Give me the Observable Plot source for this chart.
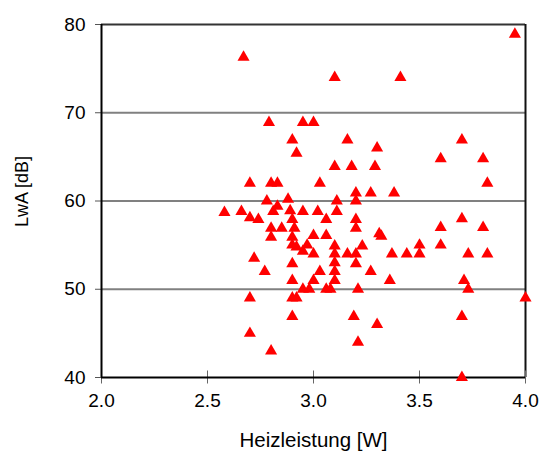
<!DOCTYPE html>
<html>
<head>
<meta charset="utf-8">
<script src="https://cdn.jsdelivr.net/npm/d3@7"></script>
<script src="https://cdn.jsdelivr.net/npm/@observablehq/plot@0.6"></script>
<style>
  html, body { margin: 0; padding: 0; background: #fff; }
  svg { display: block; }
</style>
</head>
<body>
<div id="chart"></div>
<script>
const heizleistung = [
  2.67, 3.10, 3.41, 3.95, 2.79, 2.95, 3.00, 2.90, 2.92, 3.16,
  3.30, 3.70, 3.60, 3.80, 3.10, 3.18, 3.29, 3.82, 2.70, 2.80,
  2.83, 3.03, 3.20, 3.27, 3.38, 2.78, 2.88, 3.11, 3.20, 2.83,
  2.58, 2.66, 2.81, 2.89, 2.95, 3.02, 3.11, 2.70, 2.74, 2.90,
  3.06, 3.20, 3.70, 2.80, 2.85, 2.91, 3.20, 3.60, 3.80, 2.80,
  2.90, 3.00, 3.06, 3.31, 3.32, 2.90, 2.92, 2.97, 2.95, 3.00,
  3.10, 3.10, 3.16, 3.20, 3.23, 3.37, 3.44, 3.50, 3.50, 3.60,
  3.73, 3.82, 2.72, 2.90, 3.10, 3.20, 2.77, 3.03, 3.10, 3.27,
  2.90, 3.00, 3.10, 3.36, 3.71, 2.95, 2.98, 3.06, 3.08, 3.21,
  3.73, 2.70, 2.90, 2.92, 4.00, 2.90, 3.19, 3.70, 3.30, 2.70,
  3.21, 2.80, 3.70
];
const lwa = [
  76.3, 74.0, 74.0, 78.9, 68.9, 68.9, 68.9, 66.9, 65.4, 66.9,
  66.0, 66.9, 64.8, 64.8, 63.9, 63.9, 63.9, 62.0, 62.0, 62.0,
  62.0, 62.0, 60.9, 60.9, 60.9, 60.0, 60.2, 60.0, 60.0, 59.4,
  58.7, 58.8, 58.8, 58.9, 58.8, 58.8, 58.8, 58.1, 57.9, 57.9,
  57.9, 57.9, 58.0, 56.9, 56.9, 56.9, 56.9, 57.0, 57.0, 55.9,
  55.9, 56.1, 56.1, 56.3, 56.0, 55.0, 54.8, 55.0, 54.3, 54.0,
  54.9, 54.0, 54.0, 54.0, 54.9, 54.0, 54.0, 54.0, 55.0, 55.0,
  54.0, 54.0, 53.5, 52.9, 53.0, 52.9, 52.0, 52.0, 52.0, 52.0,
  51.0, 51.0, 51.0, 51.0, 51.0, 50.0, 50.0, 50.0, 50.0, 50.0,
  50.0, 49.0, 49.0, 49.0, 49.0, 46.9, 46.9, 46.9, 46.0, 45.0,
  44.0, 43.0, 40.0
];
const xTicks = [2.0, 2.5, 3.0, 3.5, 4.0];
const yTicks = [40, 50, 60, 70, 80];
const gridLines = [50, 60, 70];
const xTitle = "Heizleistung [W]";
const yTitle = "LwA [dB]";

const points = heizleistung.map((x, i) => ({x, y: lwa[i]}));

const chart = Plot.plot({
  width: 540,
  height: 452,
  marginLeft: 101,
  marginRight: 15,
  marginTop: 24,
  marginBottom: 75,
  style: {fontFamily: "'Liberation Sans', Arial, sans-serif", background: "#fff", overflow: "visible"},
  x: {domain: [2, 4], axis: null},
  y: {domain: [40, 80], axis: null},
  marks: [
    Plot.ruleY(gridLines, {stroke: "#808080", strokeWidth: 2}),
    Plot.ruleY([80], {stroke: "#333", strokeWidth: 2}),
    Plot.ruleX([4], {stroke: "#111", strokeWidth: 2}),
    Plot.axisY({ticks: yTicks, tickSize: 6, tickPadding: 10, tickFormat: d3.format("d"), fontSize: 19, stroke: "#555", color: "#000", label: null}),
    Plot.axisX({ticks: xTicks, tickSize: 13, text: null, dy: -6.5, stroke: "#666", label: null}),
    Plot.axisX({ticks: xTicks, tickSize: 0, tickPadding: 16, tickFormat: d3.format(".1f"), fontSize: 19, color: "#000", label: null}),
    Plot.ruleX([2], {stroke: "#000", strokeWidth: 2}),
    Plot.ruleY([40], {stroke: "#000", strokeWidth: 2}),
    Plot.dot(points, {x: "x", y: "y", symbol: "triangle", r: 4.5, fill: "#ff0000", stroke: "none", clip: false}),
    Plot.text([xTitle], {frameAnchor: "bottom", dy: 69, fontSize: 20.5, fill: "#000"}),
    Plot.text([yTitle], {frameAnchor: "left", dx: -79, dy: 26, rotate: -90, fontSize: 18, fill: "#000"})
  ]
});
document.getElementById("chart").appendChild(chart);
</script>
</body>
</html>
